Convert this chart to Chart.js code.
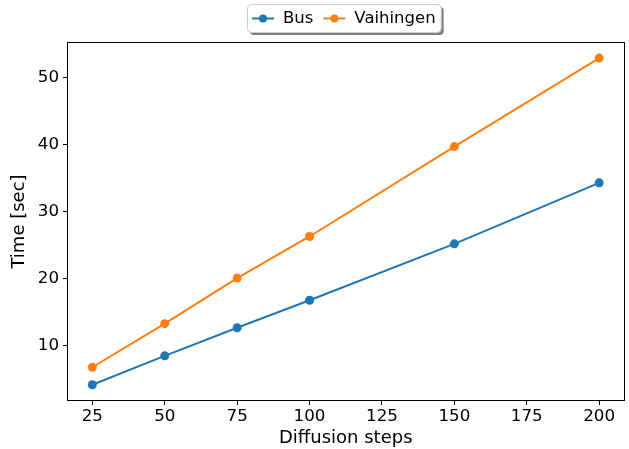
<!DOCTYPE html>
<html>
<head>
<meta charset="utf-8">
<script src="https://cdn.jsdelivr.net/npm/chart.js@4/dist/chart.umd.min.js"></script>
<style>
  html, body { margin: 0; padding: 0; background: #fff; }
  #wrap { width: 629px; height: 449px; }
</style>
</head>
<body>
<div id="wrap"><canvas id="myChart" width="629" height="449"></canvas></div>
<script>
const steps = [25, 50, 75, 100, 150, 200];
const busTimes = [4.2, 8.5, 12.7, 16.8, 25.2, 34.3];
const vaihingenTimes = [6.8, 13.3, 20.1, 26.3, 39.7, 52.9];
const xTicks = [25, 50, 75, 100, 125, 150, 175, 200];
const yTicks = [10, 20, 30, 40, 50];

const FONT = "'DejaVu Sans', sans-serif";
Chart.defaults.font.family = FONT;
Chart.defaults.color = "#000";

function toPoints(xs, ys) {
  return xs.map((x, i) => ({ x: x, y: ys[i] }));
}

// matplotlib-like frame around the plot area
const framePlugin = {
  id: "frame",
  afterDatasetsDraw(chart) {
    const { ctx, chartArea: a } = chart;
    ctx.save();
    ctx.strokeStyle = "#000";
    ctx.lineWidth = 1;
    ctx.strokeRect(Math.round(a.left) + 0.5, Math.round(a.top) + 0.5,
      Math.round(a.right - a.left) - 1, Math.round(a.bottom - a.top) - 1);
    ctx.restore();
  }
};

// legend box with line + marker samples, drawn above the plot
const legendPlugin = {
  id: "mplLegend",
  afterDraw(chart) {
    const ctx = chart.ctx;
    const sets = chart.data.datasets;
    ctx.save();
    ctx.font = "16.5px " + FONT;
    const handle = 22, gapH = 9, gapItem = 10, pad = 5;
    let w = pad * 2;
    sets.forEach((d, i) => {
      w += handle + gapH + ctx.measureText(d.label).width;
      if (i < sets.length - 1) w += gapItem;
    });
    const h = 28;
    const x0 = 247, y0 = 4;
    // shadow
    ctx.fillStyle = "rgba(0,0,0,0.5)";
    roundRect(ctx, x0 + 3, y0 + 3, w, h, 4); ctx.fill();
    ctx.fillStyle = "#fff";
    ctx.strokeStyle = "#ccc";
    ctx.lineWidth = 1;
    roundRect(ctx, x0 + 0.5, y0 + 0.5, w, h, 4); ctx.fill(); ctx.stroke();
    let x = x0 + pad;
    const cy = y0 + h / 2 + 0.5;
    sets.forEach(d => {
      ctx.strokeStyle = d.borderColor;
      ctx.lineWidth = 2;
      ctx.beginPath(); ctx.moveTo(x, cy); ctx.lineTo(x + handle, cy); ctx.stroke();
      ctx.fillStyle = d.backgroundColor;
      ctx.beginPath(); ctx.arc(x + handle / 2, cy, 4, 0, Math.PI * 2); ctx.fill();
      x += handle + gapH;
      ctx.fillStyle = "#000";
      ctx.textBaseline = "middle";
      ctx.fillText(d.label, x, cy);
      x += ctx.measureText(d.label).width + gapItem;
    });
    ctx.restore();
  }
};

function roundRect(ctx, x, y, w, h, r) {
  ctx.beginPath();
  ctx.moveTo(x + r, y);
  ctx.arcTo(x + w, y, x + w, y + h, r);
  ctx.arcTo(x + w, y + h, x, y + h, r);
  ctx.arcTo(x, y + h, x, y, r);
  ctx.arcTo(x, y, x + w, y, r);
  ctx.closePath();
}

const ctx = document.getElementById("myChart").getContext("2d");
const myChart = new Chart(ctx, {
  type: "scatter",
  data: {
    datasets: [
      {
        label: "Bus",
        data: toPoints(steps, busTimes),
        showLine: true,
        borderColor: "#1f77b4",
        backgroundColor: "#1f77b4",
        borderWidth: 2,
        pointRadius: 4.5,
        pointHoverRadius: 4.5,
        pointBorderWidth: 0
      },
      {
        label: "Vaihingen",
        data: toPoints(steps, vaihingenTimes),
        showLine: true,
        borderColor: "#ff7f0e",
        backgroundColor: "#ff7f0e",
        borderWidth: 2,
        pointRadius: 4.5,
        pointHoverRadius: 4.5,
        pointBorderWidth: 0
      }
    ]
  },
  options: {
    responsive: false,
    animation: false,
    devicePixelRatio: 1,
    layout: { padding: { top: 42, right: 4, left: 0, bottom: 0 } },
    plugins: {
      legend: { display: false },
      tooltip: { enabled: false }
    },
    scales: {
      x: {
        type: "linear",
        min: 16.25,
        max: 208.75,
        afterBuildTicks: (axis) => { axis.ticks = xTicks.map(v => ({ value: v })); },
        afterFit: (axis) => { axis.height = 48; },
        grid: { display: true, drawOnChartArea: false, drawTicks: true, tickLength: 4, color: "#000" },
        border: { display: false },
        ticks: { font: { size: 16.7 }, padding: 2, maxRotation: 0, autoSkip: false },
        title: { display: true, text: "Diffusion steps", font: { size: 18 }, padding: { top: 0, bottom: 0 } }
      },
      y: {
        type: "linear",
        min: 1.77,
        max: 55.3,
        afterBuildTicks: (axis) => { axis.ticks = yTicks.map(v => ({ value: v })); },
        afterFit: (axis) => { axis.width = 67; },
        grid: { display: true, drawOnChartArea: false, drawTicks: true, tickLength: 4, color: "#000" },
        border: { display: false },
        ticks: { font: { size: 16.7 }, padding: 4 },
        title: { display: true, text: "Time [sec]", font: { size: 18 }, padding: { top: 9, bottom: 0 } }
      }
    }
  },
  plugins: [framePlugin, legendPlugin]
});
</script>
</body>
</html>
